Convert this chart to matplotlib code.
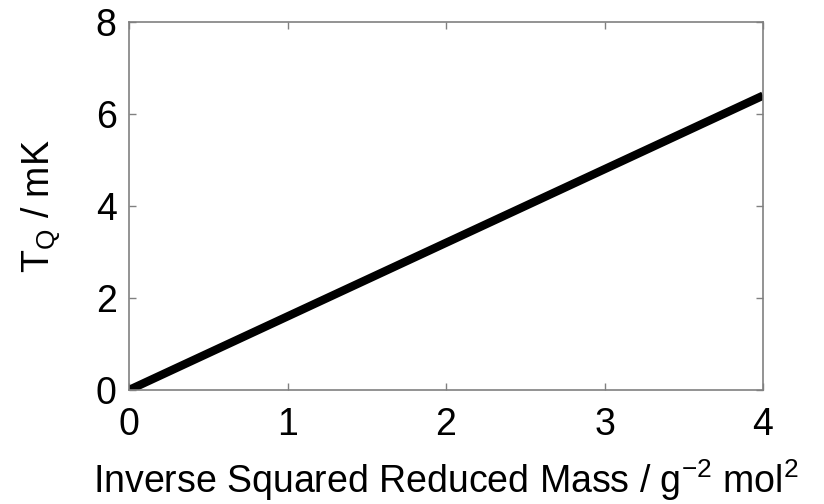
import matplotlib
matplotlib.use("Agg")
import matplotlib.pyplot as plt

plt.rcParams['font.family'] = ['Liberation Sans', 'DejaVu Sans']
plt.rcParams['mathtext.fontset'] = 'custom'
plt.rcParams['mathtext.rm'] = 'Liberation Sans'

x_vals = [0, 4]
y_vals = [0, 6.4]
x_ticks = [0, 1, 2, 3, 4]
y_ticks = [0, 2, 4, 6, 8]

fig = plt.figure(figsize=(8.24, 5.04), dpi=100)
ax = fig.add_axes([0.1566, 0.2262, 0.7694, 0.7301])
ax.plot(x_vals, y_vals, color='black', linewidth=6, solid_capstyle='butt')
ax.set_xlim(0, 4)
ax.set_ylim(0, 8)
ax.set_xticks(x_ticks)
ax.set_yticks(y_ticks)
for s in ax.spines.values():
    s.set_color('#808080')
    s.set_linewidth(1.2)
ax.tick_params(direction='in', length=5, width=1, color='#808080',
               top=True, right=True, labelsize=27)
ax.tick_params(axis='x', pad=12)
ax.tick_params(axis='y', pad=9)
ax.set_xlabel(r'Inverse Squared Reduced Mass / g$^{\mathregular{-2}}$ mol$^{\mathregular{2}}$',
              fontsize=27)
ax.set_ylabel(r'T$_{\mathregular{Q}}$ / mK', fontsize=27)
ax.xaxis.set_label_coords(0.5, -0.183)
ax.yaxis.set_label_coords(-0.104, 0.5)
fig.savefig('out.png', dpi=100)
